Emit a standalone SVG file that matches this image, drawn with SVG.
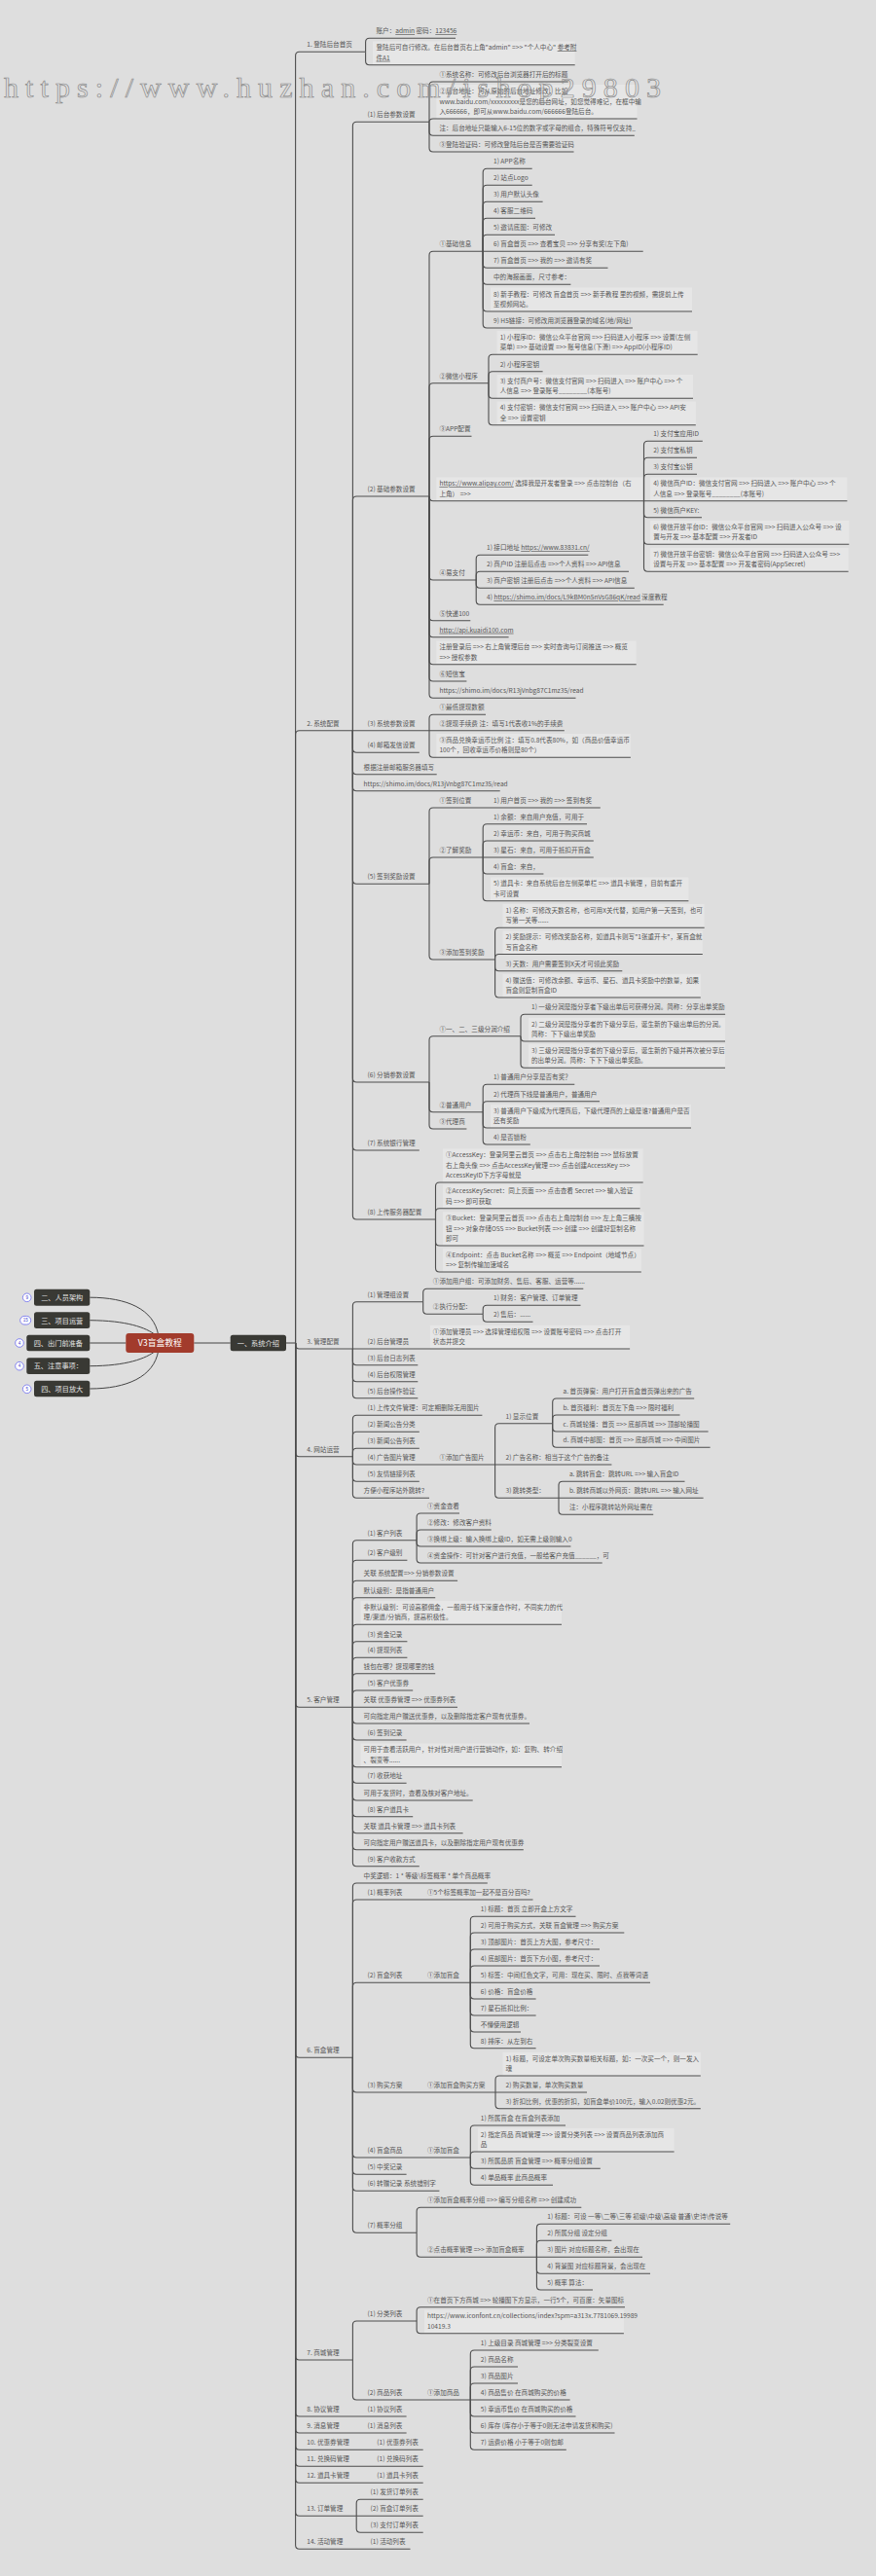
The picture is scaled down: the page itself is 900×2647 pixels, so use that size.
<svg xmlns="http://www.w3.org/2000/svg" width="900" height="2647" viewBox="0 0 900 2647">
<style>
.t{font-family:"Noto Sans CJK SC","Liberation Sans",sans-serif;font-size:6.6px;fill:#555}
.c{stroke:#4e4e4e;stroke-width:1.1;fill:none}
.k{stroke:#444;stroke-width:1;fill:none}
.hl{fill:#e6e6e6}
.u{text-decoration:underline}
.nd{fill:#393934}
.nt{font-family:"Noto Sans CJK SC","Liberation Sans",sans-serif;font-size:7.2px;fill:#e2e2e2;text-anchor:middle}
.bd{fill:#fff;stroke:#6b6bf0;stroke-width:0.8}
.bt{font-family:"Liberation Sans",sans-serif;font-size:4.6px;fill:#4a4ad0;text-anchor:middle}
</style>
<rect width="900" height="2647" fill="#dedede"/>
<g id="highlights">
<rect class="hl" x="383" y="42.5" width="207.7" height="24.2"/>
<rect class="hl" x="448.4" y="87" width="206.1" height="35"/>
<rect class="hl" x="504" y="295.5" width="207" height="24.5"/>
<rect class="hl" x="510.7" y="340" width="206" height="24.3"/>
<rect class="hl" x="510.7" y="385" width="201.3" height="24.3"/>
<rect class="hl" x="510.7" y="412.5" width="204.1" height="24.2"/>
<rect class="hl" x="448.4" y="490.5" width="213.1" height="24.2"/>
<rect class="hl" x="668.2" y="490.5" width="202.2" height="24.2"/>
<rect class="hl" x="668.2" y="535" width="204.1" height="24.3"/>
<rect class="hl" x="668.2" y="563" width="203.4" height="24.3"/>
<rect class="hl" x="448.4" y="658.5" width="205.3" height="24.2"/>
<rect class="hl" x="448.4" y="754" width="199.5" height="24.3"/>
<rect class="hl" x="504" y="901.5" width="203.4" height="24.2"/>
<rect class="hl" x="516.5" y="929" width="207.2" height="24.3"/>
<rect class="hl" x="516.5" y="956.3" width="205.3" height="24.2"/>
<rect class="hl" x="516.5" y="1000.8" width="203.3" height="24.2"/>
<rect class="hl" x="543" y="1045.8" width="202" height="24.2"/>
<rect class="hl" x="543" y="1073" width="202" height="24.3"/>
<rect class="hl" x="504" y="1134.8" width="206" height="24.2"/>
<rect class="hl" x="455" y="1180.3" width="205.7" height="34.7"/>
<rect class="hl" x="455" y="1217.5" width="202.6" height="24.2"/>
<rect class="hl" x="455" y="1245.3" width="206.5" height="34.7"/>
<rect class="hl" x="455" y="1282.8" width="203.8" height="24.2"/>
<rect class="hl" x="441.8" y="1361.8" width="205.3" height="24.2"/>
<rect class="hl" x="370.6" y="1645" width="206.4" height="24.3"/>
<rect class="hl" x="370.6" y="1791.5" width="206.4" height="24.2"/>
<rect class="hl" x="516.5" y="2108.8" width="203.3" height="24.2"/>
<rect class="hl" x="490.8" y="2186.8" width="201.8" height="24.2"/>
<rect class="hl" x="436" y="2373.5" width="204.9" height="24.2"/>
</g>
<g id="connectors">
<path class="k" d="M92.3 1333.2C130 1333.2 158 1345 162.7 1372"/>
<path class="k" d="M92.3 1356.7C130 1357 150 1364 160 1372"/>
<path class="k" d="M92.3 1380H129.3"/>
<path class="k" d="M92.3 1403.7C130 1403.5 150 1396 160 1388"/>
<path class="k" d="M92.3 1427C130 1427 158 1415 162.7 1388"/>
<path class="k" d="M199.3 1380H236.7"/>
<path class="c" d="M294 1380H303.6"/>
<!-- level 2 -->
<path class="c" d="M303.6 1380V57.3Q303.6 53.3 307.6 53.3H375.6"/>
<path class="c" d="M303.6 1380V754.7Q303.6 750.7 307.6 750.7H362.4"/>
<path class="c" d="M303.6 1380V1382Q303.6 1386 307.6 1386H362.4"/>
<path class="c" d="M303.6 1380V1492.7Q303.6 1496.7 307.6 1496.7H362.4"/>
<path class="c" d="M303.6 1380V1750.3Q303.6 1754.3 307.6 1754.3H362.4"/>
<path class="c" d="M303.6 1380V2110.3Q303.6 2114.3 307.6 2114.3H362.4"/>
<path class="c" d="M303.6 1380V2421Q303.6 2425 307.6 2425H362.4"/>
<path class="c" d="M303.6 1380V2479Q303.6 2483 307.6 2483H417.6"/>
<path class="c" d="M303.6 1380V2496Q303.6 2500 307.6 2500H417.6"/>
<path class="c" d="M303.6 1380V2513.3Q303.6 2517.3 307.6 2517.3H434.7"/>
<path class="c" d="M303.6 1380V2530.3Q303.6 2534.3 307.6 2534.3H434.7"/>
<path class="c" d="M303.6 1380V2547.3Q303.6 2551.3 307.6 2551.3H434.7"/>
<path class="c" d="M303.6 1380V2581.3Q303.6 2585.3 307.6 2585.3H366.2"/>
<path class="c" d="M303.6 1380V2615.3Q303.6 2619.3 307.6 2619.3H421.5"/>
<!-- 1 -->
<path class="c" d="M375.6 53.3V43.3Q375.6 39.3 379.6 39.3H468"/>
<path class="c" d="M375.6 53.3V62.7Q375.6 66.7 379.6 66.7H590.7"/>
<!-- 2 -->
<path class="c" d="M362.4 750.7V129.3Q362.4 125.3 366.4 125.3H441"/>
<path class="c" d="M362.4 750.7V514Q362.4 510 366.4 510H441"/>
<path class="c" d="M362.4 750.7H441"/>
<path class="c" d="M362.4 750.7V769.3Q362.4 773.3 366.4 773.3H430.8"/>
<path class="c" d="M362.4 750.7V791.7Q362.4 795.7 366.4 795.7H448.7"/>
<path class="c" d="M362.4 750.7V808.7Q362.4 812.7 366.4 812.7H513.7"/>
<path class="c" d="M362.4 750.7V904.3Q362.4 908.3 366.4 908.3H441"/>
<path class="c" d="M362.4 750.7V1108Q362.4 1112 366.4 1112H441"/>
<path class="c" d="M362.4 750.7V1178Q362.4 1182 366.4 1182H430.8"/>
<path class="c" d="M362.4 750.7V1249Q362.4 1253 366.4 1253H447.5"/>
<!-- (1) -->
<path class="c" d="M441 125.3V88Q441 84 445 84H583.7"/>
<path class="c" d="M441 125.3Q441 122 445 122H654.5"/>
<path class="c" d="M441 125.3V135.3Q441 139.3 445 139.3H651.8"/>
<path class="c" d="M441 125.3V152Q441 156 445 156H589.5"/>
<!-- (2) -->
<path class="c" d="M441 510V262.3Q441 258.3 445 258.3H496.2"/>
<path class="c" d="M441 510V397.7Q441 393.7 445 393.7H502"/>
<path class="c" d="M441 510V452.3Q441 448.3 445 448.3H484.5"/>
<path class="c" d="M441 510Q441 514.7 445 514.7H661.5"/>
<path class="c" d="M441 510V592Q441 596 445 596H489.2"/>
<path class="c" d="M441 510V633.7Q441 637.7 445 637.7H483.3"/>
<path class="c" d="M441 510V650.7Q441 654.7 445 654.7H522.6"/>
<path class="c" d="M441 510V678.7Q441 682.7 445 682.7H653.7"/>
<path class="c" d="M441 510V696Q441 700 445 700H479.4"/>
<path class="c" d="M441 510V713.3Q441 717.3 445 717.3H591.5"/>
<!-- 基础信息 -->
<path class="c" d="M496.2 258.3V177.3Q496.2 173.3 500.2 173.3H546.7"/>
<path class="c" d="M496.2 258.3V194.3Q496.2 190.3 500.2 190.3H546.7"/>
<path class="c" d="M496.2 258.3V211.3Q496.2 207.3 500.2 207.3H557.6"/>
<path class="c" d="M496.2 258.3V228.3Q496.2 224.3 500.2 224.3H550"/>
<path class="c" d="M496.2 258.3V245.3Q496.2 241.3 500.2 241.3H570"/>
<path class="c" d="M496.2 258.3H660.7"/>
<path class="c" d="M496.2 258.3V271.3Q496.2 275.3 500.2 275.3H624.5"/>
<path class="c" d="M496.2 258.3V288.3Q496.2 292.3 500.2 292.3H586.4"/>
<path class="c" d="M496.2 258.3V316Q496.2 320 500.2 320H711"/>
<path class="c" d="M496.2 258.3V333Q496.2 337 500.2 337H650"/>
<!-- 微信小程序 -->
<path class="c" d="M502 393.7V368.3Q502 364.3 506 364.3H716.7"/>
<path class="c" d="M502 393.7V385.7Q502 381.7 506 381.7H557.6"/>
<path class="c" d="M502 393.7V405.3Q502 409.3 506 409.3H712"/>
<path class="c" d="M502 393.7V432.7Q502 436.7 506 436.7H714.8"/>
<!-- alipay -->
<path class="c" d="M661.5 514.7V457.3Q661.5 453.3 665.5 453.3H721.8"/>
<path class="c" d="M661.5 514.7V474.3Q661.5 470.3 665.5 470.3H716"/>
<path class="c" d="M661.5 514.7V491.3Q661.5 487.3 665.5 487.3H716"/>
<path class="c" d="M661.5 514.7H870.4"/>
<path class="c" d="M661.5 514.7V527.7Q661.5 531.7 665.5 531.7H721"/>
<path class="c" d="M661.5 514.7V555.3Q661.5 559.3 665.5 559.3H872.3"/>
<path class="c" d="M661.5 514.7V583.3Q661.5 587.3 665.5 587.3H871.6"/>
<!-- 易支付 -->
<path class="c" d="M489.2 596V574.3Q489.2 570.3 493.2 570.3H604.3"/>
<path class="c" d="M489.2 596V591.3Q489.2 587.3 493.2 587.3H646"/>
<path class="c" d="M489.2 596V600.3Q489.2 604.3 493.2 604.3H651.8"/>
<path class="c" d="M489.2 596V617.3Q489.2 621.3 493.2 621.3H681.7"/>
<!-- (3) -->
<path class="c" d="M441 750.7V738.3Q441 734.3 445 734.3H499"/>
<path class="c" d="M441 750.7H579.8"/>
<path class="c" d="M441 750.7V774.3Q441 778.3 445 778.3H647.9"/>
<!-- (5) -->
<path class="c" d="M441 908.3V834Q441 830 445 830H616.8"/>
<path class="c" d="M441 908.3V885Q441 881 445 881H496.2"/>
<path class="c" d="M441 908.3V982Q441 986 445 986H508.6"/>
<path class="c" d="M496.2 881V850.7Q496.2 846.7 500.2 846.7H603"/>
<path class="c" d="M496.2 881V868Q496.2 864 500.2 864H609.8"/>
<path class="c" d="M496.2 881H609.8"/>
<path class="c" d="M496.2 881V894Q496.2 898 500.2 898H558.4"/>
<path class="c" d="M496.2 881V921.7Q496.2 925.7 500.2 925.7H707.4"/>
<path class="c" d="M508.6 986V957.3Q508.6 953.3 512.6 953.3H723.7"/>
<path class="c" d="M508.6 986V984.5Q508.6 980.5 512.6 980.5H721.8"/>
<path class="c" d="M508.6 986V993.7Q508.6 997.7 512.6 997.7H639.3"/>
<path class="c" d="M508.6 986V1021Q508.6 1025 512.6 1025H719.8"/>
<!-- (6) -->
<path class="c" d="M441 1112V1068.7Q441 1064.7 445 1064.7H535"/>
<path class="c" d="M441 1112V1138.7Q441 1142.7 445 1142.7H496.2"/>
<path class="c" d="M441 1112V1156Q441 1160 445 1160H479.4"/>
<path class="c" d="M535 1064.7V1046.3Q535 1042.3 539 1042.3H745.1"/>
<path class="c" d="M535 1064.7V1066Q535 1070 539 1070H745"/>
<path class="c" d="M535 1064.7V1093.3Q535 1097.3 539 1097.3H745"/>
<path class="c" d="M496.2 1142.7V1118.3Q496.2 1114.3 500.2 1114.3H590.3"/>
<path class="c" d="M496.2 1142.7V1135.7Q496.2 1131.7 500.2 1131.7H616"/>
<path class="c" d="M496.2 1142.7V1155Q496.2 1159 500.2 1159H710"/>
<path class="c" d="M496.2 1142.7V1172Q496.2 1176 500.2 1176H544.8"/>
<!-- (8) -->
<path class="c" d="M447.5 1253V1219Q447.5 1215 451.5 1215H660.7"/>
<path class="c" d="M447.5 1253V1245.7Q447.5 1241.7 451.5 1241.7H657.6"/>
<path class="c" d="M447.5 1253V1276Q447.5 1280 451.5 1280H661.5"/>
<path class="c" d="M447.5 1253V1303Q447.5 1307 451.5 1307H658.8"/>
<!-- 3 -->
<path class="c" d="M362.4 1386V1341.7Q362.4 1337.7 366.4 1337.7H434.7"/>
<path class="c" d="M362.4 1386H647.1"/>
<path class="c" d="M362.4 1386V1398.7Q362.4 1402.7 366.4 1402.7H429.3"/>
<path class="c" d="M362.4 1386V1415.7Q362.4 1419.7 366.4 1419.7H429.3"/>
<path class="c" d="M362.4 1386V1432.7Q362.4 1436.7 366.4 1436.7H429.3"/>
<path class="c" d="M434.7 1337.7V1328.3Q434.7 1324.3 438.7 1324.3H599.3"/>
<path class="c" d="M434.7 1337.7V1346.3Q434.7 1350.3 438.7 1350.3H496.2"/>
<path class="c" d="M496.2 1350.3V1345.3Q496.2 1341.3 500.2 1341.3H596.5"/>
<path class="c" d="M496.2 1350.3V1354.3Q496.2 1358.3 500.2 1358.3H547.5"/>
<!-- 4 -->
<path class="c" d="M362.4 1496.7V1458.3Q362.4 1454.3 366.4 1454.3H495.4"/>
<path class="c" d="M362.4 1496.7V1475.3Q362.4 1471.3 366.4 1471.3H430.8"/>
<path class="c" d="M362.4 1496.7V1492.3Q362.4 1488.3 366.4 1488.3H430.8"/>
<path class="c" d="M362.4 1496.7V1501Q362.4 1505 366.4 1505H508.6"/>
<path class="c" d="M362.4 1496.7V1518.3Q362.4 1522.3 366.4 1522.3H430.8"/>
<path class="c" d="M362.4 1496.7V1535.3Q362.4 1539.3 366.4 1539.3H441"/>
<path class="c" d="M508.6 1505V1466.7Q508.6 1462.7 512.6 1462.7H567.7"/>
<path class="c" d="M508.6 1505H628.4"/>
<path class="c" d="M508.6 1505V1535.3Q508.6 1539.3 512.6 1539.3H574"/>
<path class="c" d="M567.7 1462.7V1441Q567.7 1437 571.7 1437H713.2"/>
<path class="c" d="M567.7 1462.7V1458Q567.7 1454 571.7 1454H698.5"/>
<path class="c" d="M567.7 1462.7V1467Q567.7 1471 571.7 1471H727.6"/>
<path class="c" d="M567.7 1462.7V1483.3Q567.7 1487.3 571.7 1487.3H729.6"/>
<path class="c" d="M574 1539.3V1526.3Q574 1522.3 578 1522.3H703.5"/>
<path class="c" d="M574 1539.3H722.6"/>
<path class="c" d="M574 1539.3V1552.3Q574 1556.3 578 1556.3H671.2"/>
<!-- 5 -->
<path class="c" d="M362.4 1754.3V1586.7Q362.4 1582.7 366.4 1582.7H428.1"/>
<path class="c" d="M362.4 1754.3V1607.3Q362.4 1603.3 366.4 1603.3H418.4"/>
<path class="c" d="M362.4 1754.3V1628.3Q362.4 1624.3 366.4 1624.3H470.1"/>
<path class="c" d="M362.4 1754.3V1645.7Q362.4 1641.7 366.4 1641.7H447.2"/>
<path class="c" d="M362.4 1754.3V1673.3Q362.4 1669.3 366.4 1669.3H577"/>
<path class="c" d="M362.4 1754.3V1690.7Q362.4 1686.7 366.4 1686.7H418.4"/>
<path class="c" d="M362.4 1754.3V1707.3Q362.4 1703.3 366.4 1703.3H418.4"/>
<path class="c" d="M362.4 1754.3V1723.7Q362.4 1719.7 366.4 1719.7H447.2"/>
<path class="c" d="M362.4 1754.3V1741Q362.4 1737 366.4 1737H424.2"/>
<path class="c" d="M362.4 1754.3H470"/>
<path class="c" d="M362.4 1754.3V1767Q362.4 1771 366.4 1771H544"/>
<path class="c" d="M362.4 1754.3V1784Q362.4 1788 366.4 1788H417.6"/>
<path class="c" d="M362.4 1754.3V1811.7Q362.4 1815.7 366.4 1815.7H577"/>
<path class="c" d="M362.4 1754.3V1828.3Q362.4 1832.3 366.4 1832.3H417.6"/>
<path class="c" d="M362.4 1754.3V1846Q362.4 1850 366.4 1850H485.7"/>
<path class="c" d="M362.4 1754.3V1862.7Q362.4 1866.7 366.4 1866.7H424.2"/>
<path class="c" d="M362.4 1754.3V1879.7Q362.4 1883.7 366.4 1883.7H475.6"/>
<path class="c" d="M362.4 1754.3V1896.7Q362.4 1900.7 366.4 1900.7H537.8"/>
<path class="c" d="M362.4 1754.3V1913.7Q362.4 1917.7 366.4 1917.7H430.8"/>
<path class="c" d="M428.1 1582.7V1559Q428.1 1555 432.1 1555H472"/>
<path class="c" d="M428.1 1582.7V1576Q428.1 1572 432.1 1572H504.7"/>
<path class="c" d="M428.1 1582.7V1585Q428.1 1589 432.1 1589H586.4"/>
<path class="c" d="M428.1 1582.7V1602Q428.1 1606 432.1 1606H618.7"/>
<!-- 6 -->
<path class="c" d="M362.4 2114.3V1939Q362.4 1935 366.4 1935H500.8"/>
<path class="c" d="M362.4 2114.3V1956Q362.4 1952 366.4 1952H547.5"/>
<path class="c" d="M362.4 2114.3V2041.3Q362.4 2037.3 366.4 2037.3H483.3"/>
<path class="c" d="M362.4 2114.3V2146Q362.4 2150 366.4 2150H509"/>
<path class="c" d="M362.4 2114.3V2213Q362.4 2217 366.4 2217H483.3"/>
<path class="c" d="M362.4 2114.3V2230.3Q362.4 2234.3 366.4 2234.3H417.6"/>
<path class="c" d="M362.4 2114.3V2247.3Q362.4 2251.3 366.4 2251.3H451.4"/>
<path class="c" d="M362.4 2114.3V2290.3Q362.4 2294.3 366.4 2294.3H428.1"/>
<path class="c" d="M483.3 2037.3V1973.3Q483.3 1969.3 487.3 1969.3H591.5"/>
<path class="c" d="M483.3 2037.3V1990Q483.3 1986 487.3 1986H641.3"/>
<path class="c" d="M483.3 2037.3V2007Q483.3 2003 487.3 2003H616"/>
<path class="c" d="M483.3 2037.3V2024Q483.3 2020 487.3 2020H616"/>
<path class="c" d="M483.3 2037.3H668"/>
<path class="c" d="M483.3 2037.3V2050Q483.3 2054 487.3 2054H550.6"/>
<path class="c" d="M483.3 2037.3V2067Q483.3 2071 487.3 2071H550.6"/>
<path class="c" d="M483.3 2037.3V2084Q483.3 2088 487.3 2088H535"/>
<path class="c" d="M483.3 2037.3V2100.7Q483.3 2104.7 487.3 2104.7H550.6"/>
<path class="c" d="M509 2150V2137Q509 2133 513 2133H719.8"/>
<path class="c" d="M509 2150H603"/>
<path class="c" d="M509 2150V2162.7Q509 2166.7 513 2166.7H719.8"/>
<path class="c" d="M483.3 2217V2188Q483.3 2184 487.3 2184H581"/>
<path class="c" d="M483.3 2217V2215Q483.3 2211 487.3 2211H692.6"/>
<path class="c" d="M483.3 2217V2224.3Q483.3 2228.3 487.3 2228.3H616.8"/>
<path class="c" d="M483.3 2217V2241.3Q483.3 2245.3 487.3 2245.3H568"/>
<path class="c" d="M428.1 2294.3V2272.3Q428.1 2268.3 432.1 2268.3H597.3"/>
<path class="c" d="M428.1 2294.3V2315.3Q428.1 2319.3 432.1 2319.3H551.4"/>
<path class="c" d="M551.4 2319.3V2289.3Q551.4 2285.3 555.4 2285.3H750.2"/>
<path class="c" d="M551.4 2319.3V2306.3Q551.4 2302.3 555.4 2302.3H628.4"/>
<path class="c" d="M551.4 2319.3H660"/>
<path class="c" d="M551.4 2319.3V2332.3Q551.4 2336.3 555.4 2336.3H668"/>
<path class="c" d="M551.4 2319.3V2349Q551.4 2353 555.4 2353H609"/>
<!-- 7 -->
<path class="c" d="M362.4 2425V2389Q362.4 2385 366.4 2385H428.1"/>
<path class="c" d="M362.4 2425V2462Q362.4 2466 366.4 2466H483.3"/>
<path class="c" d="M428.1 2385V2374.7Q428.1 2370.7 432.1 2370.7H642"/>
<path class="c" d="M428.1 2385V2393.7Q428.1 2397.7 432.1 2397.7H640.9"/>
<path class="c" d="M483.3 2466V2419Q483.3 2415 487.3 2415H614.8"/>
<path class="c" d="M483.3 2466V2436Q483.3 2432 487.3 2432H532"/>
<path class="c" d="M483.3 2466V2453Q483.3 2449 487.3 2449H532"/>
<path class="c" d="M483.3 2466H585.6"/>
<path class="c" d="M483.3 2466V2479Q483.3 2483 487.3 2483H591.5"/>
<path class="c" d="M483.3 2466V2496Q483.3 2500 487.3 2500H631.5"/>
<path class="c" d="M483.3 2466V2513.3Q483.3 2517.3 487.3 2517.3H581.8"/>
<!-- 13 -->
<path class="c" d="M366.2 2585.3V2572.3Q366.2 2568.3 370.2 2568.3H434.7"/>
<path class="c" d="M366.2 2585.3H434.7"/>
<path class="c" d="M366.2 2585.3V2598.3Q366.2 2602.3 370.2 2602.3H434.7"/>
</g>
<g id="root">
<rect x="129.3" y="1370" width="70" height="20" rx="3" fill="#a23b2c"/>
<text x="164.3" y="1383.3" style="font-family:'Noto Sans CJK SC','Liberation Sans',sans-serif;font-size:8.8px;fill:#fff;text-anchor:middle">V3盲盒教程</text>
</g>
<g id="sys-intro"><rect class="nd" x="236.7" y="1371.7" width="57.3" height="16.6" rx="2.5"/><text class="nt" x="265.3" y="1382.7">一、系统介绍</text></g>
<g id="staff"><rect class="nd" x="35" y="1324.7" width="57.3" height="17" rx="2.5"/><text class="nt" x="63.7" y="1336">二、人员架构</text><circle class="bd" cx="27.7" cy="1333.3" r="4.3"/><text class="bt" x="27.7" y="1335">9</text></g>
<g id="ops"><rect class="nd" x="35" y="1348.3" width="57.3" height="16.7" rx="2.5"/><text class="nt" x="63.7" y="1359.5">三、项目运营</text><rect class="bd" x="20.7" y="1352.4" width="11" height="8.6" rx="4.3"/><text class="bt" x="26.2" y="1358.3">15</text></g>
<g id="prep"><rect class="nd" x="27.3" y="1371.7" width="65" height="16.6" rx="2.5"/><text class="nt" x="59.8" y="1382.7">四、出门前准备</text><circle class="bd" cx="20" cy="1380" r="4.3"/><text class="bt" x="20" y="1381.7">4</text></g>
<g id="notes"><rect class="nd" x="27.3" y="1395.3" width="65" height="16.7" rx="2.5"/><text class="nt" x="59.8" y="1406.4">五、注意事项：</text><circle class="bd" cx="20" cy="1403.7" r="4.3"/><text class="bt" x="20" y="1405.4">4</text></g>
<g id="scale"><rect class="nd" x="35" y="1418.7" width="57.3" height="16.6" rx="2.5"/><text class="nt" x="63.7" y="1429.7">四、项目放大</text><circle class="bd" cx="27.7" cy="1427.3" r="4.3"/><text class="bt" x="27.7" y="1429">5</text></g>
<g id="b1" class="t">
<text x="315.3" y="48.3">1. 登陆后台首页</text>
<text x="386.5" y="34.3">账户：<tspan class="u">admin</tspan> 密码：<tspan class="u">123456</tspan></text>
<text><tspan x="386.5" y="51.2">登陆后可自行修改。在后台首页右上角"admin" =&gt;&gt; "个人中心" <tspan class="u">参考附</tspan></tspan><tspan x="386.5" y="61.7" class="u">件A1</tspan></text>
</g>
<g id="b2" class="t">
<text x="315.3" y="745.7">2. 系统配置</text>
<text x="377.5" y="120.3">(1) 后台参数设置</text>
<text x="451.4" y="79">①系统名称：可修改后台浏览器打开后的标题</text>
<text><tspan x="451.4" y="96">②后台地址：可从原始的后台地址修改，比如</tspan><tspan x="451.4" y="106.5">www.baidu.com/xxxxxxxxx是您的后台网址，如您觉得难记，在框中输</tspan><tspan x="451.4" y="117">入666666，即可从www.baidu.com/666666登陆后台。</tspan></text>
<text x="451.4" y="134.3">注：后台地址只能输入6-15位的数字或字母的组合，特殊符号仅支持_</text>
<text x="451.4" y="151">③登陆验证码：可修改登陆后台是否需要验证码</text>
<text x="451.4" y="253.3">①基础信息</text>
<text x="507" y="168.3">1) APP名称</text>
<text x="507" y="185.3">2) 站点Logo</text>
<text x="507" y="202.3">3) 用户默认头像</text>
<text x="507" y="219.3">4) 客服二维码</text>
<text x="507" y="236.3">5) 邀请底图：可修改</text>
<text x="507" y="253.3">6) 盲盒首页 =&gt;&gt; 查看宝贝 =&gt;&gt; 分享有奖(左下角)</text>
<text x="507" y="270.3">7) 盲盒首页 =&gt;&gt; 我的 =&gt;&gt; 邀请有奖</text>
<text x="507" y="287.3">中的海报画面，尺寸参考：</text>
<text><tspan x="507" y="304.5">8) 新手教程：可修改 盲盒首页 =&gt;&gt; 新手教程 里的视频，需提前上传</tspan><tspan x="507" y="315">至视频网站。</tspan></text>
<text x="507" y="332">9) H5链接：可修改用浏览器登录的域名(地/网址)</text>
<text x="451.4" y="388.7">②微信小程序</text>
<text><tspan x="513.7" y="348.8">1) 小程序ID：微信公众平台官网 =&gt;&gt; 扫码进入小程序 =&gt;&gt; 设置(左侧</tspan><tspan x="513.7" y="359.3">菜单) =&gt;&gt; 基础设置 =&gt;&gt; 账号信息(下滑) =&gt;&gt; AppID(小程序ID)</tspan></text>
<text x="513.7" y="376.7">2) 小程序密钥</text>
<text><tspan x="513.7" y="393.8">3) 支付商户号：微信支付官网 =&gt;&gt; 扫码进入 =&gt;&gt; 账户中心 =&gt;&gt; 个</tspan><tspan x="513.7" y="404.3">人信息 =&gt;&gt; 登录账号________(本账号)</tspan></text>
<text><tspan x="513.7" y="421.2">4) 支付密钥：微信支付官网 =&gt;&gt; 扫码进入 =&gt;&gt; 账户中心 =&gt;&gt; API安</tspan><tspan x="513.7" y="431.7">全 =&gt;&gt; 设置密钥</tspan></text>
<text x="451.4" y="443.3">③APP配置</text>
<text x="671.2" y="448.3">1) 支付宝应用ID</text>
<text x="671.2" y="465.3">2) 支付宝私钥</text>
<text x="671.2" y="482.3">3) 支付宝公钥</text>
<text><tspan x="671.2" y="499.2">4) 微信商户ID：微信支付官网 =&gt;&gt; 扫码进入 =&gt;&gt; 账户中心 =&gt;&gt; 个</tspan><tspan x="671.2" y="509.7">人信息 =&gt;&gt; 登录账号________(本账号)</tspan></text>
<text x="671.2" y="526.7">5) 微信商户KEY:</text>
<text><tspan x="671.2" y="543.8">6) 微信开放平台ID：微信公众平台官网 =&gt;&gt; 扫码进入公众号 =&gt;&gt; 设</tspan><tspan x="671.2" y="554.3">置与开发 =&gt;&gt; 基本配置 =&gt;&gt; 开发者ID</tspan></text>
<text><tspan x="671.2" y="571.8">7) 微信开放平台密钥：微信公众平台官网 =&gt;&gt; 扫码进入公众号 =&gt;&gt;</tspan><tspan x="671.2" y="582.3">设置与开发 =&gt;&gt; 基本配置 =&gt;&gt; 开发者密码(AppSecret)</tspan></text>
<text x="377.5" y="505">(2) 基础参数设置</text>
<text><tspan x="451.4" y="499.2"><tspan class="u">https://www.alipay.com/</tspan> 选择我是开发者登录 =&gt;&gt; 点击控制台（右</tspan><tspan x="451.4" y="509.7">上角） =&gt;&gt;</tspan></text>
<text x="451.4" y="591">④易支付</text>
<text x="500" y="565.3">1) 接口地址 <tspan class="u">https://www.83831.cn/</tspan></text>
<text x="500" y="582.3">2) 商户ID 注册后点击 =&gt;&gt;个人资料 =&gt;&gt; API信息</text>
<text x="500" y="599.3">3) 商户密钥 注册后点击 =&gt;&gt;个人资料 =&gt;&gt; API信息</text>
<text x="500" y="616.3">4) <tspan class="u">https://shimo.im/docs/L9kBM0n5nVsG86qK/read</tspan> 深度教程</text>
<text x="451.4" y="632.7">⑤快递100</text>
<text x="451.4" y="649.7" class="u">http://api.kuaidi100.com</text>
<text><tspan x="451.4" y="667.2">注册登录后 =&gt;&gt; 右上角管理后台 =&gt;&gt; 实时查询与订阅推送 =&gt;&gt; 概览</tspan><tspan x="451.4" y="677.7">=&gt;&gt; 授权参数</tspan></text>
<text x="451.4" y="695">⑥短信宝</text>
<text x="451.4" y="712.3">https://shimo.im/docs/R13jVnbg87C1mz35/read</text>
<text x="451.4" y="729.3">①最低提现数额</text>
<text x="377.5" y="745.7">(3) 系统参数设置</text>
<text x="451.4" y="745.7">②提现手续费  注：填写1代表收1%的手续费</text>
<text><tspan x="451.4" y="762.8">③商品兑换幸运币比例  注：填写0.8代表80%，如（商品价值幸运币</tspan><tspan x="451.4" y="773.3">100个，回收幸运币价格则是80个）</tspan></text>
<text x="377.5" y="768.3">(4) 邮箱发信设置</text>
<text x="373.6" y="790.7">根据注册邮箱服务器填写</text>
<text x="373.6" y="807.7">https://shimo.im/docs/R13jVnbg87C1mz35/read</text>
<text x="451.4" y="825">①签到位置</text>
<text x="507" y="825">1) 用户首页 =&gt;&gt; 我的 =&gt;&gt; 签到有奖</text>
<text x="451.4" y="876">②了解奖励</text>
<text x="507" y="841.7">1) 余额：来自用户充值，可用于</text>
<text x="507" y="859">2) 幸运币：来自，可用于购买商城</text>
<text x="507" y="876">3) 星石：来自，可用于抵扣开盲盒</text>
<text x="507" y="893">4) 盲盒：来自，</text>
<text><tspan x="507" y="910.2">5) 道具卡：来自系统后台左侧菜单栏 =&gt;&gt; 道具卡管理 ，目前有重开</tspan><tspan x="507" y="920.7">卡可设置</tspan></text>
<text x="377.5" y="903.3">(5) 签到奖励设置</text>
<text x="451.4" y="981">③添加签到奖励</text>
<text><tspan x="519.5" y="937.8">1) 名称：可修改天数名称，也可用X关代替，如用户第一天签到，也可</tspan><tspan x="519.5" y="948.3">写第一关等......</tspan></text>
<text><tspan x="519.5" y="965">2) 奖励提示：可修改奖励名称，如道具卡则写"1张重开卡"，某盲盒就</tspan><tspan x="519.5" y="975.5">写盲盒名称</tspan></text>
<text x="519.5" y="992.7">3) 天数：用户需要签到X天才可领此奖励</text>
<text><tspan x="519.5" y="1009.5">4) 赠送值：可修改余额、幸运币、星石、道具卡奖励中的数量，如果</tspan><tspan x="519.5" y="1020">盲盒则复制盲盒ID</tspan></text>
<text x="451.4" y="1059.7">①一、二、三级分润介绍</text>
<text x="546" y="1037.3">1) 一级分润是指分享者下级出单后可获得分润。简称：分享出单奖励</text>
<text><tspan x="546" y="1054.5">2) 二级分润是指分享者的下级分享后，诞生新的下级出单后的分润。</tspan><tspan x="546" y="1065">简称：下下级出单奖励</tspan></text>
<text><tspan x="546" y="1081.8">3) 三级分润是指分享者的下级分享后，诞生新的下级并再次被分享后</tspan><tspan x="546" y="1092.3">的出单分润。简称：下下下级出单奖励。</tspan></text>
<text x="377.5" y="1107">(6) 分销参数设置</text>
<text x="451.4" y="1137.7">②普通用户</text>
<text x="507" y="1109.3">1) 普通用户分享是否有奖？</text>
<text x="507" y="1126.7">2) 代理商下线是普通用户，普通用户</text>
<text><tspan x="507" y="1143.5">3) 普通用户下级成为代理商后，下级代理商的上级是谁?普通用户是否</tspan><tspan x="507" y="1154">还有奖励</tspan></text>
<text x="507" y="1171">4) 是否锁粉</text>
<text x="451.4" y="1155">③代理商</text>
<text x="377.5" y="1177">(7) 系统银行管理</text>
<text><tspan x="458" y="1189">①AccessKey：登录阿里云首页 =&gt;&gt; 点击右上角控制台 =&gt;&gt; 鼠标放置</tspan><tspan x="458" y="1199.5">右上角头像 =&gt;&gt; 点击AccessKey管理  =&gt;&gt;  点击创建AccessKey  =&gt;&gt;</tspan><tspan x="458" y="1210">AccessKeyID下方字母就是</tspan></text>
<text><tspan x="458" y="1226.2">②AccessKeySecret：同上页面 =&gt;&gt; 点击查看 Secret =&gt;&gt; 输入验证</tspan><tspan x="458" y="1236.7">码 =&gt;&gt; 即可获取</tspan></text>
<text x="377.5" y="1248">(8) 上传服务器配置</text>
<text><tspan x="458" y="1254">③Bucket：登录阿里云首页 =&gt;&gt; 点击右上角控制台 =&gt;&gt; 左上角三横按</tspan><tspan x="458" y="1264.5">钮 =&gt;&gt; 对象存储OSS =&gt;&gt; Bucket列表 =&gt;&gt; 创建 =&gt;&gt; 创建好复制名称</tspan><tspan x="458" y="1275">即可</tspan></text>
<text><tspan x="458" y="1291.5">④Endpoint：点击 Bucket名称 =&gt;&gt; 概览 =&gt;&gt;  Endpoint（地域节点）</tspan><tspan x="458" y="1302">=&gt;&gt; 复制传输加速域名</tspan></text>
</g>
<g id="b3" class="t">
<text x="315.3" y="1381">3. 管理配置</text>
<text x="377.5" y="1332.7">(1) 管理组设置</text>
<text x="444.8" y="1319.3">①添加用户组：可添加财务、售后、客服、运营等......</text>
<text x="444.8" y="1345.3">②执行分配：</text>
<text x="507" y="1336.3">1) 财务：客户管理、订单管理</text>
<text x="507" y="1353.3">2) 售后：......</text>
<text x="377.5" y="1381">(2) 后台管理员</text>
<text><tspan x="444.8" y="1370.5">①添加管理员 =&gt;&gt; 选择管理组权限 =&gt;&gt; 设置账号密码 =&gt;&gt; 点击打开</tspan><tspan x="444.8" y="1381">状态并提交</tspan></text>
<text x="377.5" y="1397.7">(3) 后台日志列表</text>
<text x="377.5" y="1414.7">(4) 后台权限管理</text>
<text x="377.5" y="1431.7">(5) 后台操作验证</text>
</g>
<g id="b4" class="t">
<text x="315.3" y="1491.7">4. 网站运营</text>
<text x="377.5" y="1449.3">(1) 上传文件管理：可定期删除无用图片</text>
<text x="377.5" y="1466.3">(2) 新闻公告分类</text>
<text x="377.5" y="1483.3">(3) 新闻公告列表</text>
<text x="377.5" y="1500">(4) 广告图片管理</text>
<text x="451.4" y="1500">①添加广告图片</text>
<text x="519.5" y="1457.7">1) 显示位置</text>
<text x="578.6" y="1432">a. 首页弹窗：用户打开盲盒首页弹出来的广告</text>
<text x="578.6" y="1449">b. 首页福利：首页左下角 =&gt;&gt; 限时福利</text>
<text x="578.6" y="1466">c. 商城轮播：首页 =&gt;&gt; 底部商城 =&gt;&gt; 顶部轮播图</text>
<text x="578.6" y="1482.3">d. 商城中部图：首页 =&gt;&gt; 底部商城 =&gt;&gt; 中间图片</text>
<text x="519.5" y="1500">2) 广告名称：相当于这个广告的备注</text>
<text x="519.5" y="1534.3">3) 跳转类型：</text>
<text x="584.9" y="1517.3">a. 跳转盲盒：跳转URL =&gt;&gt; 输入盲盒ID</text>
<text x="584.9" y="1534.3">b. 跳转商城以外网页：跳转URL =&gt;&gt; 输入网址</text>
<text x="584.9" y="1551.3">注：小程序跳转站外网址需在</text>
<text x="377.5" y="1517.3">(5) 友情链接列表</text>
<text x="373.6" y="1534.3">方便小程序站外跳转?</text>
</g>
<g id="b5" class="t">
<text x="315.3" y="1749.3">5. 客户管理</text>
<text x="377.5" y="1577.7">(1) 客户列表</text>
<text x="439" y="1550">①资金查看</text>
<text x="439" y="1567">②修改：修改客户资料</text>
<text x="439" y="1584">③换绑上级：输入换绑上级ID，如无需上级则输入0</text>
<text x="439" y="1601">④资金操作：可针对客户进行充值，一般给客户充值______，可</text>
<text x="377.5" y="1598.3">(2) 客户级别</text>
<text x="373.6" y="1619.3">关联 系统配置=&gt;&gt; 分销参数设置</text>
<text x="373.6" y="1636.7">默认级别：是指普通用户</text>
<text><tspan x="373.6" y="1653.8">非默认级别：可设高额佣金，一般用于线下深度合作时，不同实力的代</tspan><tspan x="373.6" y="1664.3">理/渠道/分销商，提高积极性。</tspan></text>
<text x="377.5" y="1681.7">(3) 资金记录</text>
<text x="377.5" y="1698.3">(4) 提现列表</text>
<text x="373.6" y="1714.7">钱包在哪？提现哪里的钱</text>
<text x="377.5" y="1732">(5) 客户优惠券</text>
<text x="373.6" y="1749">关联 优惠券管理 =&gt;&gt; 优惠券列表</text>
<text x="373.6" y="1766">可向指定用户赠送优惠券，以及删除指定客户现有优惠券。</text>
<text x="377.5" y="1783">(6) 签到记录</text>
<text><tspan x="373.6" y="1800.2">可用于查看活跃用户，针对性对用户进行营销动作，如：复购、转介绍</tspan><tspan x="373.6" y="1810.7">、裂变等......</tspan></text>
<text x="377.5" y="1827.3">(7) 收获地址</text>
<text x="373.6" y="1845">可用于发货时，查看及核对客户地址。</text>
<text x="377.5" y="1861.7">(8) 客户道具卡</text>
<text x="373.6" y="1878.7">关联 道具卡管理  =&gt;&gt;  道具卡列表</text>
<text x="373.6" y="1895.7">可向指定用户赠送道具卡，以及删除指定用户现有优惠券</text>
<text x="377.5" y="1912.7">(9) 客户收款方式</text>
</g>
<g id="b6" class="t">
<text x="315.3" y="2109.3">6. 盲盒管理</text>
<text x="373.6" y="1930">中奖逻辑：1 * 等级\标签概率 * 单个商品概率</text>
<text x="377.5" y="1947">(1) 概率列表</text>
<text x="439" y="1947">①5个标签概率加一起不是百分百吗?</text>
<text x="377.5" y="2032.3">(2) 盲盒列表</text>
<text x="439" y="2032.3">①添加盲盒</text>
<text x="493.8" y="1964.3">1) 标题：首页 立即开盒上方文字</text>
<text x="493.8" y="1981">2) 可用于购买方式，关联 盲盒管理 =&gt;&gt; 购买方案</text>
<text x="493.8" y="1998">3) 顶部图片：首页上方大图，参考尺寸：</text>
<text x="493.8" y="2015">4) 底部图片：首页下方小图，参考尺寸：</text>
<text x="493.8" y="2032">5) 标签：中间红色文字，可用：现在买、限时、点我等词语</text>
<text x="493.8" y="2049">6) 价格：盲盒价格</text>
<text x="493.8" y="2066">7) 星石抵扣比例：</text>
<text x="493.8" y="2083">不懂使用逻辑</text>
<text x="493.8" y="2099.7">8) 排序：从左到右</text>
<text x="377.5" y="2145">(3) 购买方案</text>
<text x="439" y="2145">①添加盲盒购买方案</text>
<text><tspan x="519.5" y="2117.5">1) 标题，可设定单次购买数量相关标题，如：一次买一个，则一发入</tspan><tspan x="519.5" y="2128">魂</tspan></text>
<text x="519.5" y="2145">2) 购买数量，单次购买数量</text>
<text x="519.5" y="2161.7">3) 折扣比例，优惠的折扣，如盲盒单价100元，输入0.02则优惠2元。</text>
<text x="377.5" y="2212">(4) 盲盒商品</text>
<text x="439" y="2212">①添加盲盒</text>
<text x="493.8" y="2179">1) 所属盲盒 在盲盒列表添加</text>
<text><tspan x="493.8" y="2195.5">2) 指定商品 商城管理 =&gt;&gt; 设置分类列表 =&gt;&gt; 设置商品列表添加商</tspan><tspan x="493.8" y="2206">品</tspan></text>
<text x="493.8" y="2223.3">3) 所属品质 盲盒管理 =&gt;&gt; 概率分组设置</text>
<text x="493.8" y="2240.3">4) 单品概率 此商品概率</text>
<text x="377.5" y="2229.3">(5) 中奖记录</text>
<text x="377.5" y="2246.3">(6) 转赠记录 系统错别字</text>
<text x="377.5" y="2289.3">(7) 概率分组</text>
<text x="439" y="2263.3">①添加盲盒概率分组 =&gt;&gt; 编写分组名称 =&gt;&gt; 创建成功</text>
<text x="439" y="2314.3">②点击概率管理 =&gt;&gt; 添加盲盒概率</text>
<text x="562.3" y="2280.3">1) 标题：可设 一等\二等\三等 初级\中级\高级 普通\史诗\传说等</text>
<text x="562.3" y="2297.3">2) 所属分组 设定分组</text>
<text x="562.3" y="2314.3">3) 图片 对应标题名称，会出现在</text>
<text x="562.3" y="2331.3">4) 背景图  对应标题背景，会出现在</text>
<text x="562.3" y="2348">5) 概率 算法：</text>
</g>
<g id="b7" class="t">
<text x="315.3" y="2420">7. 商城管理</text>
<text x="377.5" y="2380">(1) 分类列表</text>
<text x="439" y="2365.7">①在首页下方商城 =&gt;&gt; 轮播图下方显示，一行5个，可百度：矢量图标</text>
<text><tspan x="439" y="2382.2">https://www.iconfont.cn/collections/index?spm=a313x.7781069.19989</tspan><tspan x="439" y="2392.7">10419.3</tspan></text>
<text x="377.5" y="2461">(2) 商品列表</text>
<text x="439" y="2461">①添加商品</text>
<text x="493.8" y="2410">1) 上级目录 商城管理 =&gt;&gt; 分类裂变设置</text>
<text x="493.8" y="2427">2) 商品名称</text>
<text x="493.8" y="2444">3) 商品图片</text>
<text x="493.8" y="2461">4) 商品售价 在商城购买的价格</text>
<text x="493.8" y="2478">5) 幸运币售价 在商城购买的价格</text>
<text x="493.8" y="2495">6) 库存 (库存小于等于0则无法申请发货和购买)</text>
<text x="493.8" y="2512.3">7) 运费价格 小于等于0则包邮</text>
</g>
<g id="b8-14" class="t">
<text x="315.3" y="2478">8. 协议管理</text><text x="377.5" y="2478">(1) 协议列表</text>
<text x="315.3" y="2495">9. 消息管理</text><text x="377.5" y="2495">(1) 消息列表</text>
<text x="315.3" y="2512.3">10. 优惠券管理</text><text x="387.3" y="2512.3">(1) 优惠券列表</text>
<text x="315.3" y="2529.3">11. 兑换码管理</text><text x="387.3" y="2529.3">(1) 兑换码列表</text>
<text x="315.3" y="2546.3">12. 道具卡管理</text><text x="387.3" y="2546.3">(1) 道具卡列表</text>
<text x="380.6" y="2563.3">(1) 发货订单列表</text>
<text x="315.3" y="2580.3">13. 订单管理</text><text x="380.6" y="2580.3">(2) 盲盒订单列表</text>
<text x="380.6" y="2597.3">(3) 支付订单列表</text>
<text x="315.3" y="2614.3">14. 活动管理</text><text x="380.6" y="2614.3">(1) 活动列表</text>
</g>
<text id="watermark" x="4" y="100" textLength="675" lengthAdjust="spacing" style="font-family:'Liberation Serif',serif;font-size:30px;fill:none;stroke:#8a8a8a;stroke-width:0.7">https://www.huzhan.com/ishop29803</text>
</svg>
